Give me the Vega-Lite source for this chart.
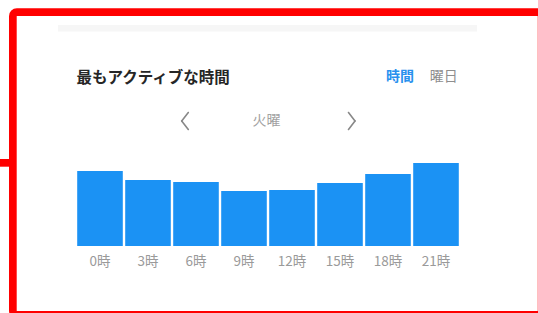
{
  "$schema": "https://vega.github.io/schema/vega-lite/v6.json",
  "width": 384,
  "height": 146,
  "autosize": {"type": "none"},
  "padding": {"left": 76, "top": 100, "right": 78, "bottom": 67},
  "background": "white",
  "config": {"view": {"stroke": null}, "font": "Noto Sans CJK JP"},
  "layer": [
    {
      "data": {"values": [{}]},
      "mark": {"type": "rect", "color": "#f6f6f6"},
      "encoding": {
        "x": {"datum": 58, "type": "quantitative", "scale": {"domain": [76, 460], "zero": false, "nice": false}, "axis": null},
        "x2": {"datum": 477},
        "y": {"datum": 25, "type": "quantitative", "scale": {"domain": [100, 246], "reverse": true, "zero": false, "nice": false}, "axis": null},
        "y2": {"datum": 31.5}
      }
    },
    {
      "data": {"values": [{}]},
      "mark": {"type": "rect", "fill": "transparent", "stroke": "#ff0000", "strokeWidth": 7.7, "cornerRadius": 4},
      "encoding": {
        "x": {"datum": 12.85, "type": "quantitative", "scale": {"domain": [76, 460], "zero": false, "nice": false}, "axis": null},
        "x2": {"datum": 541.6},
        "y": {"datum": 12.15, "type": "quantitative", "scale": {"domain": [100, 246], "reverse": true, "zero": false, "nice": false}, "axis": null},
        "y2": {"datum": 314.85}
      }
    },
    {
      "data": {"values": [{}]},
      "mark": {"type": "rect", "color": "#ff0000"},
      "encoding": {
        "x": {"datum": 0, "type": "quantitative", "scale": {"domain": [76, 460], "zero": false, "nice": false}, "axis": null},
        "x2": {"datum": 10},
        "y": {"datum": 159, "type": "quantitative", "scale": {"domain": [100, 246], "reverse": true, "zero": false, "nice": false}, "axis": null},
        "y2": {"datum": 166.7}
      }
    },
    {
      "data": {"values": [
        {"hour": "0時", "activity": 75},
        {"hour": "3時", "activity": 66},
        {"hour": "6時", "activity": 64},
        {"hour": "9時", "activity": 55},
        {"hour": "12時", "activity": 56},
        {"hour": "15時", "activity": 63},
        {"hour": "18時", "activity": 72},
        {"hour": "21時", "activity": 83}
      ]},
      "mark": {"type": "bar", "color": "#1b92f4"},
      "encoding": {
        "x": {"field": "hour", "type": "nominal", "sort": null,
          "scale": {"paddingInner": 0.05, "paddingOuter": 0.025},
          "axis": {"title": null, "labelAngle": 0, "ticks": false, "domain": false, "labelPadding": 8, "labelFontSize": 13.5, "labelColor": "#9a9a9a", "labelFont": "Noto Sans CJK JP"}},
        "y": {"field": "activity", "type": "quantitative", "scale": {"domain": [0, 146], "nice": false}, "axis": null}
      }
    },
    {
      "data": {"values": [{}]},
      "mark": {"type": "text", "align": "left", "baseline": "middle", "fontSize": 15.5, "fontWeight": "bold", "color": "#262626"},
      "encoding": {
        "x": {"datum": 76.5, "type": "quantitative", "scale": {"domain": [76, 460], "zero": false, "nice": false}, "axis": null},
        "y": {"datum": 78, "type": "quantitative", "scale": {"domain": [100, 246], "reverse": true, "zero": false, "nice": false}, "axis": null},
        "text": {"value": "最もアクティブな時間"}
      }
    },
    {
      "data": {"values": [{}]},
      "mark": {"type": "text", "align": "center", "baseline": "middle", "fontSize": 14, "fontWeight": "bold", "color": "#2891ee"},
      "encoding": {
        "x": {"datum": 400, "type": "quantitative", "scale": {"domain": [76, 460], "zero": false, "nice": false}, "axis": null},
        "y": {"datum": 77, "type": "quantitative", "scale": {"domain": [100, 246], "reverse": true, "zero": false, "nice": false}, "axis": null},
        "text": {"value": "時間"}
      }
    },
    {
      "data": {"values": [{}]},
      "mark": {"type": "text", "align": "center", "baseline": "middle", "fontSize": 14, "color": "#8e8e8e"},
      "encoding": {
        "x": {"datum": 443.7, "type": "quantitative", "scale": {"domain": [76, 460], "zero": false, "nice": false}, "axis": null},
        "y": {"datum": 77, "type": "quantitative", "scale": {"domain": [100, 246], "reverse": true, "zero": false, "nice": false}, "axis": null},
        "text": {"value": "曜日"}
      }
    },
    {
      "data": {"values": [{}]},
      "mark": {"type": "text", "align": "center", "baseline": "middle", "fontSize": 14, "color": "#a2a2a2"},
      "encoding": {
        "x": {"datum": 266.5, "type": "quantitative", "scale": {"domain": [76, 460], "zero": false, "nice": false}, "axis": null},
        "y": {"datum": 121, "type": "quantitative", "scale": {"domain": [100, 246], "reverse": true, "zero": false, "nice": false}, "axis": null},
        "text": {"value": "火曜"}
      }
    },
    {
      "data": {"values": [{}]},
      "mark": {"type": "rule", "color": "#888888", "strokeWidth": 1.6, "strokeCap": "round"},
      "encoding": {
        "x": {"datum": 188.3, "type": "quantitative", "scale": {"domain": [76, 460], "zero": false, "nice": false}, "axis": null},
        "x2": {"datum": 181.7},
        "y": {"datum": 112.5, "type": "quantitative", "scale": {"domain": [100, 246], "reverse": true, "zero": false, "nice": false}, "axis": null},
        "y2": {"datum": 121}
      }
    },
    {
      "data": {"values": [{}]},
      "mark": {"type": "rule", "color": "#888888", "strokeWidth": 1.6, "strokeCap": "round"},
      "encoding": {
        "x": {"datum": 181.7, "type": "quantitative", "scale": {"domain": [76, 460], "zero": false, "nice": false}, "axis": null},
        "x2": {"datum": 188.3},
        "y": {"datum": 121, "type": "quantitative", "scale": {"domain": [100, 246], "reverse": true, "zero": false, "nice": false}, "axis": null},
        "y2": {"datum": 129.5}
      }
    },
    {
      "data": {"values": [{}]},
      "mark": {"type": "rule", "color": "#888888", "strokeWidth": 1.6, "strokeCap": "round"},
      "encoding": {
        "x": {"datum": 348.5, "type": "quantitative", "scale": {"domain": [76, 460], "zero": false, "nice": false}, "axis": null},
        "x2": {"datum": 355},
        "y": {"datum": 112.5, "type": "quantitative", "scale": {"domain": [100, 246], "reverse": true, "zero": false, "nice": false}, "axis": null},
        "y2": {"datum": 121}
      }
    },
    {
      "data": {"values": [{}]},
      "mark": {"type": "rule", "color": "#888888", "strokeWidth": 1.6, "strokeCap": "round"},
      "encoding": {
        "x": {"datum": 355, "type": "quantitative", "scale": {"domain": [76, 460], "zero": false, "nice": false}, "axis": null},
        "x2": {"datum": 348.5},
        "y": {"datum": 121, "type": "quantitative", "scale": {"domain": [100, 246], "reverse": true, "zero": false, "nice": false}, "axis": null},
        "y2": {"datum": 129.5}
      }
    }
  ],
  "resolve": {"scale": {"x": "independent", "y": "independent"}}
}
